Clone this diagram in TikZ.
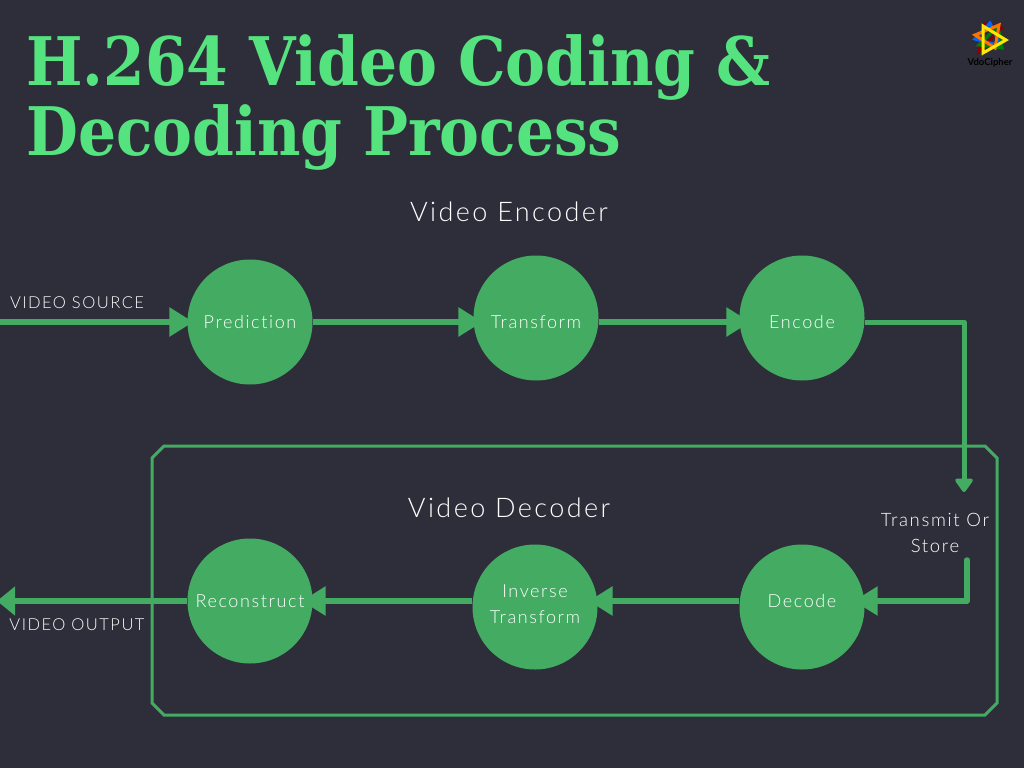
\documentclass[tikz,border=0pt]{standalone}
\usepackage{fontspec}
\setmainfont{Lato Light}[LetterSpace=9,Ligatures=CommonOff]
\newfontfamily\titlefont{DejaVu Serif}[FakeStretch=0.893]
\newfontfamily\logofont{Lato}
\usetikzlibrary{arrows.meta}
\definecolor{bgdark}{HTML}{2E2E3A}
\definecolor{flowgreen}{HTML}{43AC62}
\definecolor{titlegreen}{HTML}{54E37E}
\begin{document}
\begin{tikzpicture}[x=1pt,y=-1pt,
  my circle/.style={circle,fill=flowgreen,minimum size=125pt,inner sep=0pt,text=white,font=\fontsize{18}{26}\selectfont,align=center,text height=12pt,text depth=0pt},
  my label/.style={text=white,font=\fontsize{16.5}{20}\selectfont,align=center,inner sep=0pt},
  my head/.style={text=white,font=\fontsize{27}{32}\selectfont,inner sep=0pt},
  flow/.style={line width=6.5pt,draw=flowgreen,-{Triangle[length=24pt,width=28pt]}},
  title/.style={text=titlegreen,font=\titlefont\bfseries\fontsize{67}{72}\selectfont,anchor=base west,inner sep=0pt},
  logo line/.style={line width=3pt,line join=miter}]
  % BACKGROUND
  \fill[bgdark] (0,0) rectangle (1024,768);
  \useasboundingbox (0,0) rectangle (1024,768);
  % TITLE
  \node[title] (title1) at (26,85) {H.264 Video Coding \&};
  \node[title] (title2) at (26,155) {Decoding Process};
  \node[my head] (enchead) at (509,212) {Video Encoder};
  \node[my head] (dechead) at (509,508) {Video Decoder};
  % DECODER BOX
  \draw[flowgreen,line width=3pt] (164,446) -- (985,446) -- (997,458) -- (997,703) -- (985,715)
    -- (164,715) -- (152,703) -- (152,458) -- cycle;
  % NODES
  \node[my circle] (prediction) at (250,322) {Prediction};
  \node[my circle,text height=20pt] (transform) at (536,318) {Transform};
  \node[my circle,text height=20pt] (encode) at (802,318) {Encode};
  \node[my circle] (reconstruct) at (250,601) {Reconstruct};
  \node[my circle,text height=12pt,text depth=12pt] (decode) at (802,607) {Decode};
  \node[my circle,text height=33pt,text depth=0pt] (inverse) at (535,607) {Inverse\\Transform};
  \node[my label,font=\fontsize{18.5}{26}\selectfont] (store) at (935,533) {Transmit Or\\Store};
  \node[my label] (source) at (77,303) {VIDEO SOURCE};
  \node[my label] (output) at (77,625) {VIDEO OUTPUT};
  \coordinate (start) at (0,322);
  \coordinate (end) at (-3,601);
  \coordinate (corner1) at (964,322);
  \coordinate (drop) at (964,492);
  \coordinate (rise) at (967,560);
  \coordinate (corner2) at (967,601);
  % PATHS
  \draw[flow,shorten >=-6pt] (start) -- (prediction.west);
  \draw[flow,shorten >=-9pt] (prediction.east) -- (prediction.east -| transform.west);
  \draw[flow,shorten >=-11pt] (transform.east |- prediction) -- (encode.west |- prediction);
  \draw[flow,line width=5pt,line join=round,-{Triangle[length=15pt,width=20pt,round]}] (encode.east |- prediction) -- (corner1) -- (drop);
  \draw[flow,line width=5.5pt,line cap=round,line join=round,shorten >=-11pt] (rise) -- (corner2) -- (decode.east |- corner2);
  \draw[flow,shorten >=-9pt] (decode.west |- corner2) -- (inverse.east |- corner2);
  \draw[flow,shorten >=-11pt] (inverse.west |- corner2) -- (reconstruct.east);
  \draw[flow,-{Triangle[length=18pt,width=28pt]}] (reconstruct.west) -- (end);
  % LOGO
  \draw[logo line,red!55!black] (985,24) -- (1002,28) -- (979,51) -- cycle;
  \draw[logo line,blue!60!cyan] (975,39) -- (1001,46) -- (990,23) -- cycle;
  \draw[logo line,green!50!black] (998,26) -- (979,45) -- (1002,48) -- cycle;
  \draw[logo line,orange!90!red] (999,25) -- (975,35) -- (995,48) -- cycle;
  \draw[logo line,yellow!90!orange] (983,26) -- (1006,40) -- (983,53) -- cycle;
  \node[text=black,font=\logofont\bfseries\fontsize{9.5}{10}\selectfont,inner sep=0pt] (logo) at (990,63) {VdoCipher};
\end{tikzpicture}
\end{document}
